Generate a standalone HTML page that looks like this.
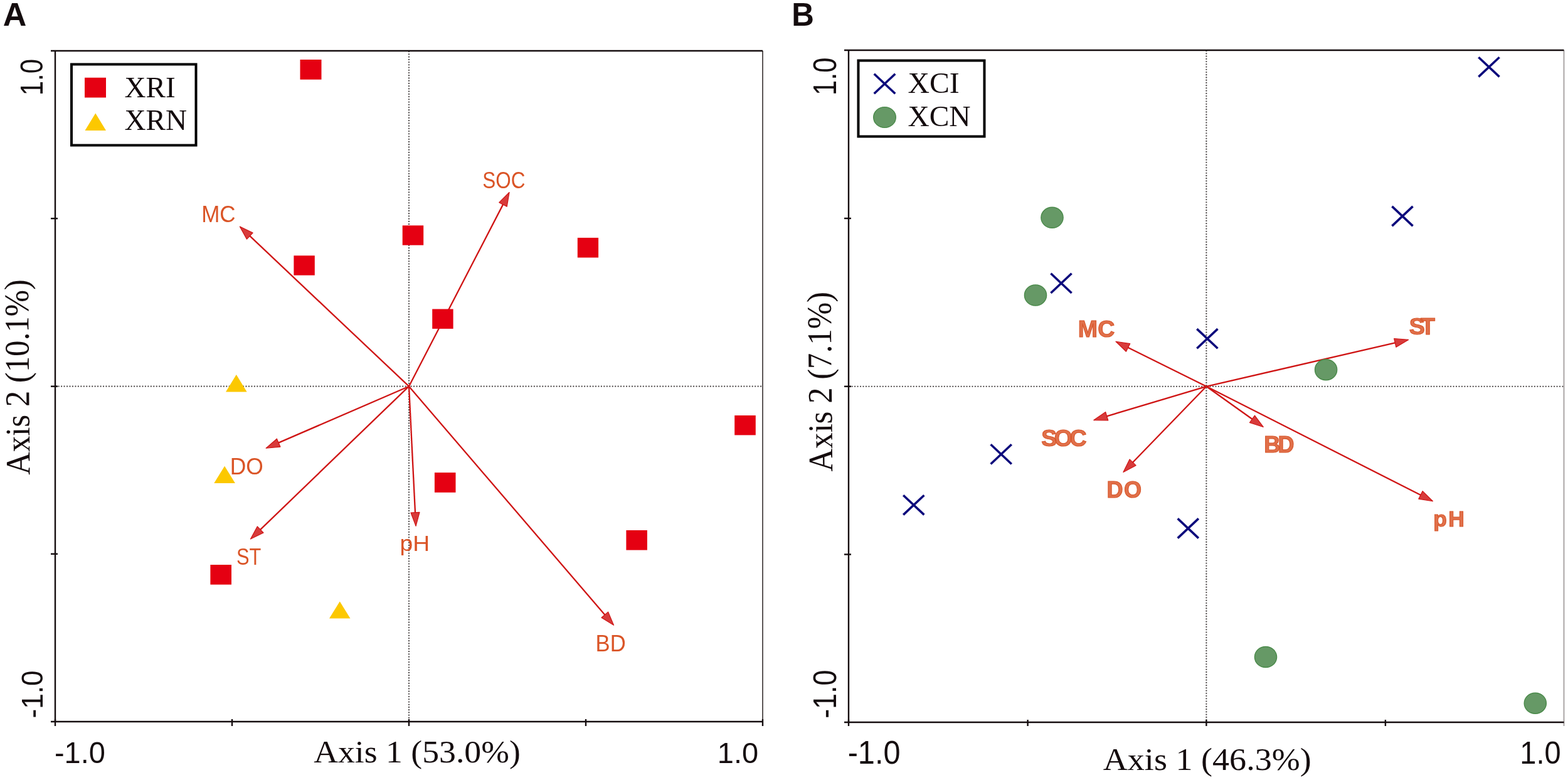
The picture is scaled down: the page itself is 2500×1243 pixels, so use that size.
<!DOCTYPE html>
<html><head><meta charset="utf-8"><title>Biplots</title>
<style>html,body{margin:0;padding:0;background:#fff;overflow:hidden}svg{display:block}</style>
</head><body>
<svg width="2500" height="1243" viewBox="0 0 2500 1243">
<rect width="2500" height="1243" fill="#fff"/>
<text x="4.70" y="40.80" font-family="'Liberation Sans', sans-serif" font-weight="bold" font-size="52.33" textLength="37.56" lengthAdjust="spacingAndGlyphs" fill="#140c0e" >A</text>
<line x1="89.20" y1="615.70" x2="1216.00" y2="615.70" stroke="#4a4545" stroke-width="2.3" stroke-dasharray="0 4.46" stroke-linecap="round"/>
<line x1="652.00" y1="82.20" x2="652.00" y2="1150.00" stroke="#4a4545" stroke-width="2.3" stroke-dasharray="0 4.23" stroke-linecap="round"/>
<line x1="1216.00" y1="81.00" x2="1216.00" y2="1150.00" stroke="#4a4444" stroke-width="1.8" />
<line x1="81.00" y1="81.00" x2="1216.00" y2="81.00" stroke="#140c0e" stroke-width="2.4" />
<line x1="88.00" y1="80.00" x2="88.00" y2="1151.00" stroke="#140c0e" stroke-width="2.4" />
<line x1="81.00" y1="1150.00" x2="1217.00" y2="1150.00" stroke="#140c0e" stroke-width="2.4" />
<line x1="81.00" y1="348.20" x2="92.00" y2="348.20" stroke="#140c0e" stroke-width="2.4" />
<line x1="81.00" y1="615.70" x2="92.00" y2="615.70" stroke="#140c0e" stroke-width="2.4" />
<line x1="81.00" y1="882.75" x2="92.00" y2="882.75" stroke="#140c0e" stroke-width="2.4" />
<line x1="88.00" y1="1146.00" x2="88.00" y2="1157.00" stroke="#140c0e" stroke-width="2.4" />
<line x1="370.00" y1="1146.00" x2="370.00" y2="1157.00" stroke="#140c0e" stroke-width="2.4" />
<line x1="652.00" y1="1146.00" x2="652.00" y2="1157.00" stroke="#140c0e" stroke-width="2.4" />
<line x1="934.00" y1="1146.00" x2="934.00" y2="1157.00" stroke="#140c0e" stroke-width="2.4" />
<line x1="1216.00" y1="1146.00" x2="1216.00" y2="1157.00" stroke="#140c0e" stroke-width="2.4" />
<line x1="652.00" y1="615.70" x2="396.83" y2="374.71" stroke="#cf1414" stroke-width="2.3" />
<polygon points="382.44,361.11 403.09,370.99 393.48,381.17" fill="#d83b3b" stroke="#cf1414" stroke-width="1.2" stroke-linejoin="round"/>
<line x1="652.00" y1="615.70" x2="802.92" y2="324.12" stroke="#cf1414" stroke-width="2.3" />
<polygon points="812.02,306.53 808.22,329.11 795.79,322.68" fill="#d83b3b" stroke="#cf1414" stroke-width="1.2" stroke-linejoin="round"/>
<line x1="652.00" y1="615.70" x2="442.32" y2="706.40" stroke="#cf1414" stroke-width="2.3" />
<polygon points="424.15,714.26 441.38,699.18 446.94,712.03" fill="#d83b3b" stroke="#cf1414" stroke-width="1.2" stroke-linejoin="round"/>
<line x1="652.00" y1="615.70" x2="413.69" y2="845.34" stroke="#cf1414" stroke-width="2.3" />
<polygon points="399.43,859.08 410.27,838.92 419.99,849.00" fill="#d83b3b" stroke="#cf1414" stroke-width="1.2" stroke-linejoin="round"/>
<line x1="652.00" y1="615.70" x2="662.09" y2="818.63" stroke="#cf1414" stroke-width="2.3" />
<polygon points="663.07,838.40 655.00,816.98 668.98,816.28" fill="#d83b3b" stroke="#cf1414" stroke-width="1.2" stroke-linejoin="round"/>
<line x1="652.00" y1="615.70" x2="965.62" y2="981.22" stroke="#cf1414" stroke-width="2.3" />
<polygon points="978.51,996.24 959.00,984.26 969.63,975.14" fill="#d83b3b" stroke="#cf1414" stroke-width="1.2" stroke-linejoin="round"/>
<rect x="478.50" y="95.00" width="34.00" height="31.75" fill="#e50012"/>
<rect x="641.70" y="359.30" width="33.50" height="31.40" fill="#e50012"/>
<rect x="468.40" y="407.30" width="33.40" height="31.40" fill="#e50012"/>
<rect x="689.20" y="492.50" width="33.40" height="31.40" fill="#e50012"/>
<rect x="920.80" y="378.90" width="33.30" height="31.60" fill="#e50012"/>
<rect x="1171.20" y="662.00" width="33.60" height="31.40" fill="#e50012"/>
<rect x="692.90" y="753.10" width="33.60" height="31.70" fill="#e50012"/>
<rect x="998.40" y="845.00" width="33.50" height="31.60" fill="#e50012"/>
<rect x="335.40" y="900.00" width="33.60" height="31.60" fill="#e50012"/>
<polygon points="360.00,624.50 393.60,624.50 376.80,596.90" fill="#fcc800"/>
<polygon points="341.30,769.90 374.90,769.90 358.10,742.80" fill="#fcc800"/>
<polygon points="525.00,985.60 558.50,985.60 541.75,958.60" fill="#fcc800"/>
<text x="321.13" y="353.84" font-family="'Liberation Sans', sans-serif" font-weight="normal" font-size="36.02" textLength="54.40" lengthAdjust="spacingAndGlyphs" fill="#da5426" >MC</text>
<text x="769.35" y="299.64" font-family="'Liberation Sans', sans-serif" font-weight="normal" font-size="36.30" textLength="68.14" lengthAdjust="spacingAndGlyphs" fill="#da5426" >SOC</text>
<text x="366.70" y="755.64" font-family="'Liberation Sans', sans-serif" font-weight="normal" font-size="36.16" textLength="53.10" lengthAdjust="spacingAndGlyphs" fill="#da5426" >DO</text>
<text x="377.08" y="900.24" font-family="'Liberation Sans', sans-serif" font-weight="normal" font-size="36.44" textLength="39.32" lengthAdjust="spacingAndGlyphs" fill="#da5426" >ST</text>
<text x="637.62" y="878.47" font-family="'Liberation Sans', sans-serif" font-weight="normal" font-size="35.71" textLength="47.61" lengthAdjust="spacingAndGlyphs" fill="#da5426" >pH</text>
<text x="949.56" y="1037.60" font-family="'Liberation Sans', sans-serif" font-weight="normal" font-size="36.77" textLength="48.11" lengthAdjust="spacingAndGlyphs" fill="#da5426" >BD</text>
<rect x="114" y="102.5" width="198.5" height="129" fill="#fff" stroke="#000" stroke-width="4"/>
<rect x="135.00" y="123.75" width="34.00" height="31.75" fill="#e50012"/>
<polygon points="135.50,208.00 169.00,208.00 152.25,180.50" fill="#fcc800"/>
<text x="198.46" y="154.90" font-family="'Liberation Serif', sans-serif" font-weight="normal" font-size="46.72" textLength="81.20" lengthAdjust="spacingAndGlyphs" fill="#140c0e" >XRI</text>
<text x="198.46" y="207.20" font-family="'Liberation Serif', sans-serif" font-weight="normal" font-size="46.87" textLength="99.64" lengthAdjust="spacingAndGlyphs" fill="#140c0e" >XRN</text>
<text transform="translate(68.11,152.18) rotate(-90)" x="0" y="0" font-family="'Liberation Sans', sans-serif" font-weight="normal" font-size="49.15" textLength="58.22" lengthAdjust="spacingAndGlyphs" fill="#140c0e" >1.0</text>
<text transform="translate(68.01,1144.55) rotate(-90)" x="0" y="0" font-family="'Liberation Sans', sans-serif" font-weight="normal" font-size="48.59" textLength="76.18" lengthAdjust="spacingAndGlyphs" fill="#140c0e" >-1.0</text>
<text x="86.93" y="1215.93" font-family="'Liberation Sans', sans-serif" font-weight="normal" font-size="47.18" textLength="80.90" lengthAdjust="spacingAndGlyphs" fill="#140c0e" >-1.0</text>
<text x="1143.83" y="1215.94" font-family="'Liberation Sans', sans-serif" font-weight="normal" font-size="46.47" textLength="65.31" lengthAdjust="spacingAndGlyphs" fill="#140c0e" >1.0</text>
<text x="500.16" y="1215.20" font-family="'Liberation Serif', sans-serif" font-weight="normal" font-size="50.72" textLength="329.71" lengthAdjust="spacingAndGlyphs" fill="#140c0e" >Axis 1 (53.0%)</text>
<text transform="translate(47.50,756.71) rotate(-90.5)" x="0" y="0" font-family="'Liberation Serif', sans-serif" font-weight="normal" font-size="55.15" textLength="311.75" lengthAdjust="spacingAndGlyphs" fill="#140c0e" >Axis 2 (10.1%)</text>
<text x="1262.19" y="40.80" font-family="'Liberation Sans', sans-serif" font-weight="bold" font-size="52.33" textLength="35.64" lengthAdjust="spacingAndGlyphs" fill="#140c0e" >B</text>
<line x1="1354.20" y1="615.80" x2="2493.50" y2="615.80" stroke="#4a4545" stroke-width="2.3" stroke-dasharray="0 4.46" stroke-linecap="round"/>
<line x1="1923.40" y1="81.20" x2="1923.40" y2="1151.00" stroke="#4a4545" stroke-width="2.3" stroke-dasharray="0 4.23" stroke-linecap="round"/>
<line x1="2493.50" y1="80.00" x2="2493.50" y2="1157.00" stroke="#a39d9d" stroke-width="1.8" />
<line x1="1346.00" y1="80.00" x2="2493.50" y2="80.00" stroke="#140c0e" stroke-width="2.4" />
<line x1="1353.00" y1="79.00" x2="1353.00" y2="1152.00" stroke="#140c0e" stroke-width="2.4" />
<line x1="1346.00" y1="1151.00" x2="2493.50" y2="1151.00" stroke="#140c0e" stroke-width="2.4" />
<line x1="1346.00" y1="348.00" x2="1357.00" y2="348.00" stroke="#140c0e" stroke-width="2.4" />
<line x1="1346.00" y1="615.80" x2="1357.00" y2="615.80" stroke="#140c0e" stroke-width="2.4" />
<line x1="1346.00" y1="883.50" x2="1357.00" y2="883.50" stroke="#140c0e" stroke-width="2.4" />
<line x1="1353.00" y1="1147.00" x2="1353.00" y2="1157.00" stroke="#140c0e" stroke-width="2.4" />
<line x1="1638.60" y1="1147.00" x2="1638.60" y2="1157.00" stroke="#140c0e" stroke-width="2.4" />
<line x1="1923.40" y1="1147.00" x2="1923.40" y2="1157.00" stroke="#140c0e" stroke-width="2.4" />
<line x1="2208.90" y1="1147.00" x2="2208.90" y2="1157.00" stroke="#140c0e" stroke-width="2.4" />
<line x1="1923.40" y1="615.80" x2="1796.78" y2="553.06" stroke="#cf1414" stroke-width="2.3" />
<polygon points="1779.04,544.27 1801.68,547.67 1795.46,560.22" fill="#d83b3b" stroke="#cf1414" stroke-width="1.2" stroke-linejoin="round"/>
<line x1="1923.40" y1="615.80" x2="2226.22" y2="545.89" stroke="#cf1414" stroke-width="2.3" />
<polygon points="2245.52,541.43 2225.85,553.16 2222.70,539.52" fill="#d83b3b" stroke="#cf1414" stroke-width="1.2" stroke-linejoin="round"/>
<line x1="1923.40" y1="615.80" x2="1762.84" y2="663.85" stroke="#cf1414" stroke-width="2.3" />
<polygon points="1743.87,669.53 1762.75,656.57 1766.77,669.98" fill="#d83b3b" stroke="#cf1414" stroke-width="1.2" stroke-linejoin="round"/>
<line x1="1923.40" y1="615.80" x2="1804.70" y2="738.25" stroke="#cf1414" stroke-width="2.3" />
<polygon points="1790.92,752.47 1801.06,731.94 1811.12,741.69" fill="#d83b3b" stroke="#cf1414" stroke-width="1.2" stroke-linejoin="round"/>
<line x1="1923.40" y1="615.80" x2="1998.08" y2="668.97" stroke="#cf1414" stroke-width="2.3" />
<polygon points="2014.21,680.45 1992.39,673.51 2000.51,662.11" fill="#d83b3b" stroke="#cf1414" stroke-width="1.2" stroke-linejoin="round"/>
<line x1="1923.40" y1="615.80" x2="2266.80" y2="789.78" stroke="#cf1414" stroke-width="2.3" />
<polygon points="2284.46,798.73 2261.85,795.12 2268.18,782.63" fill="#d83b3b" stroke="#cf1414" stroke-width="1.2" stroke-linejoin="round"/>
<path d="M2357.40,91.20L2390.60,122.40M2357.40,122.40L2390.60,91.20" stroke="#0d0b7c" stroke-width="3.6" fill="none"/>
<path d="M2219.40,328.90L2252.60,360.10M2219.40,360.10L2252.60,328.90" stroke="#0d0b7c" stroke-width="3.6" fill="none"/>
<path d="M1675.40,435.80L1708.60,467.00M1675.40,467.00L1708.60,435.80" stroke="#0d0b7c" stroke-width="3.6" fill="none"/>
<path d="M1908.30,524.10L1941.50,555.30M1908.30,555.30L1941.50,524.10" stroke="#0d0b7c" stroke-width="3.6" fill="none"/>
<path d="M1579.60,708.30L1612.80,739.50M1579.60,739.50L1612.80,708.30" stroke="#0d0b7c" stroke-width="3.6" fill="none"/>
<path d="M1440.20,789.20L1473.40,820.40M1440.20,820.40L1473.40,789.20" stroke="#0d0b7c" stroke-width="3.6" fill="none"/>
<path d="M1877.70,826.40L1910.90,857.60M1877.70,857.60L1910.90,826.40" stroke="#0d0b7c" stroke-width="3.6" fill="none"/>
<ellipse cx="1677.50" cy="346.80" rx="17.6" ry="16.5" fill="#669966" stroke="#4a8a4a" stroke-width="1.4"/>
<ellipse cx="1651.00" cy="470.50" rx="17.6" ry="16.5" fill="#669966" stroke="#4a8a4a" stroke-width="1.4"/>
<ellipse cx="2114.10" cy="589.20" rx="17.6" ry="16.5" fill="#669966" stroke="#4a8a4a" stroke-width="1.4"/>
<ellipse cx="2018.00" cy="1047.00" rx="17.6" ry="16.5" fill="#669966" stroke="#4a8a4a" stroke-width="1.4"/>
<ellipse cx="2447.80" cy="1120.70" rx="17.6" ry="16.5" fill="#669966" stroke="#4a8a4a" stroke-width="1.4"/>
<text x="1718.83" y="536.77" font-family="'Liberation Sans', sans-serif" font-weight="bold" font-size="37.57" letter-spacing="0.21" fill="#e1704a" stroke="#d75529" stroke-width="1.1">MC</text>
<text x="2246.76" y="533.17" font-family="'Liberation Sans', sans-serif" font-weight="bold" font-size="37.71" letter-spacing="-6.79" fill="#e1704a" stroke="#d75529" stroke-width="1.1">ST</text>
<text x="1660.16" y="711.17" font-family="'Liberation Sans', sans-serif" font-weight="bold" font-size="37.57" letter-spacing="-4.46" fill="#e1704a" stroke="#d75529" stroke-width="1.1">SOC</text>
<text x="1764.53" y="792.99" font-family="'Liberation Sans', sans-serif" font-weight="bold" font-size="36.16" letter-spacing="1.30" fill="#e1704a" stroke="#d75529" stroke-width="1.1">DO</text>
<text x="2015.13" y="720.75" font-family="'Liberation Sans', sans-serif" font-weight="bold" font-size="36.05" letter-spacing="-3.62" fill="#e1704a" stroke="#d75529" stroke-width="1.1">BD</text>
<text x="2285.20" y="839.44" font-family="'Liberation Sans', sans-serif" font-weight="bold" font-size="35.60" letter-spacing="2.38" fill="#e1704a" stroke="#d75529" stroke-width="1.1">pH</text>
<rect x="1368.5" y="96.5" width="201" height="121" fill="#fff" stroke="#000" stroke-width="4"/>
<path d="M1393.70,117.70L1427.30,149.30M1393.70,149.30L1427.30,117.70" stroke="#0d0b7c" stroke-width="3.6" fill="none"/>
<ellipse cx="1410.50" cy="187.00" rx="17.8" ry="16.4" fill="#669966" stroke="#4a8a4a" stroke-width="1.4"/>
<text x="1447.45" y="147.93" font-family="'Liberation Serif', sans-serif" font-weight="normal" font-size="47.02" textLength="82.23" lengthAdjust="spacingAndGlyphs" fill="#140c0e" >XCI</text>
<text x="1447.46" y="201.33" font-family="'Liberation Serif', sans-serif" font-weight="normal" font-size="47.17" textLength="100.15" lengthAdjust="spacingAndGlyphs" fill="#140c0e" >XCN</text>
<text transform="translate(1332.57,152.00) rotate(-90)" x="0" y="0" font-family="'Liberation Sans', sans-serif" font-weight="normal" font-size="52.54" textLength="60.40" lengthAdjust="spacingAndGlyphs" fill="#140c0e" >1.0</text>
<text transform="translate(1332.57,1144.87) rotate(-90)" x="0" y="0" font-family="'Liberation Sans', sans-serif" font-weight="normal" font-size="52.54" textLength="77.23" lengthAdjust="spacingAndGlyphs" fill="#140c0e" >-1.0</text>
<text x="1351.66" y="1216.98" font-family="'Liberation Sans', sans-serif" font-weight="normal" font-size="51.55" textLength="83.85" lengthAdjust="spacingAndGlyphs" fill="#140c0e" >-1.0</text>
<text x="2423.22" y="1217.00" font-family="'Liberation Sans', sans-serif" font-weight="normal" font-size="49.72" textLength="65.42" lengthAdjust="spacingAndGlyphs" fill="#140c0e" >1.0</text>
<text x="1758.76" y="1227.08" font-family="'Liberation Serif', sans-serif" font-weight="normal" font-size="51.27" textLength="332.03" lengthAdjust="spacingAndGlyphs" fill="#140c0e" >Axis 1 (46.3%)</text>
<text transform="translate(1327.30,751.51) rotate(-90.6)" x="0" y="0" font-family="'Liberation Serif', sans-serif" font-weight="normal" font-size="55.15" textLength="286.76" lengthAdjust="spacingAndGlyphs" fill="#140c0e" >Axis 2 (7.1%)</text>
</svg>
</body></html>
